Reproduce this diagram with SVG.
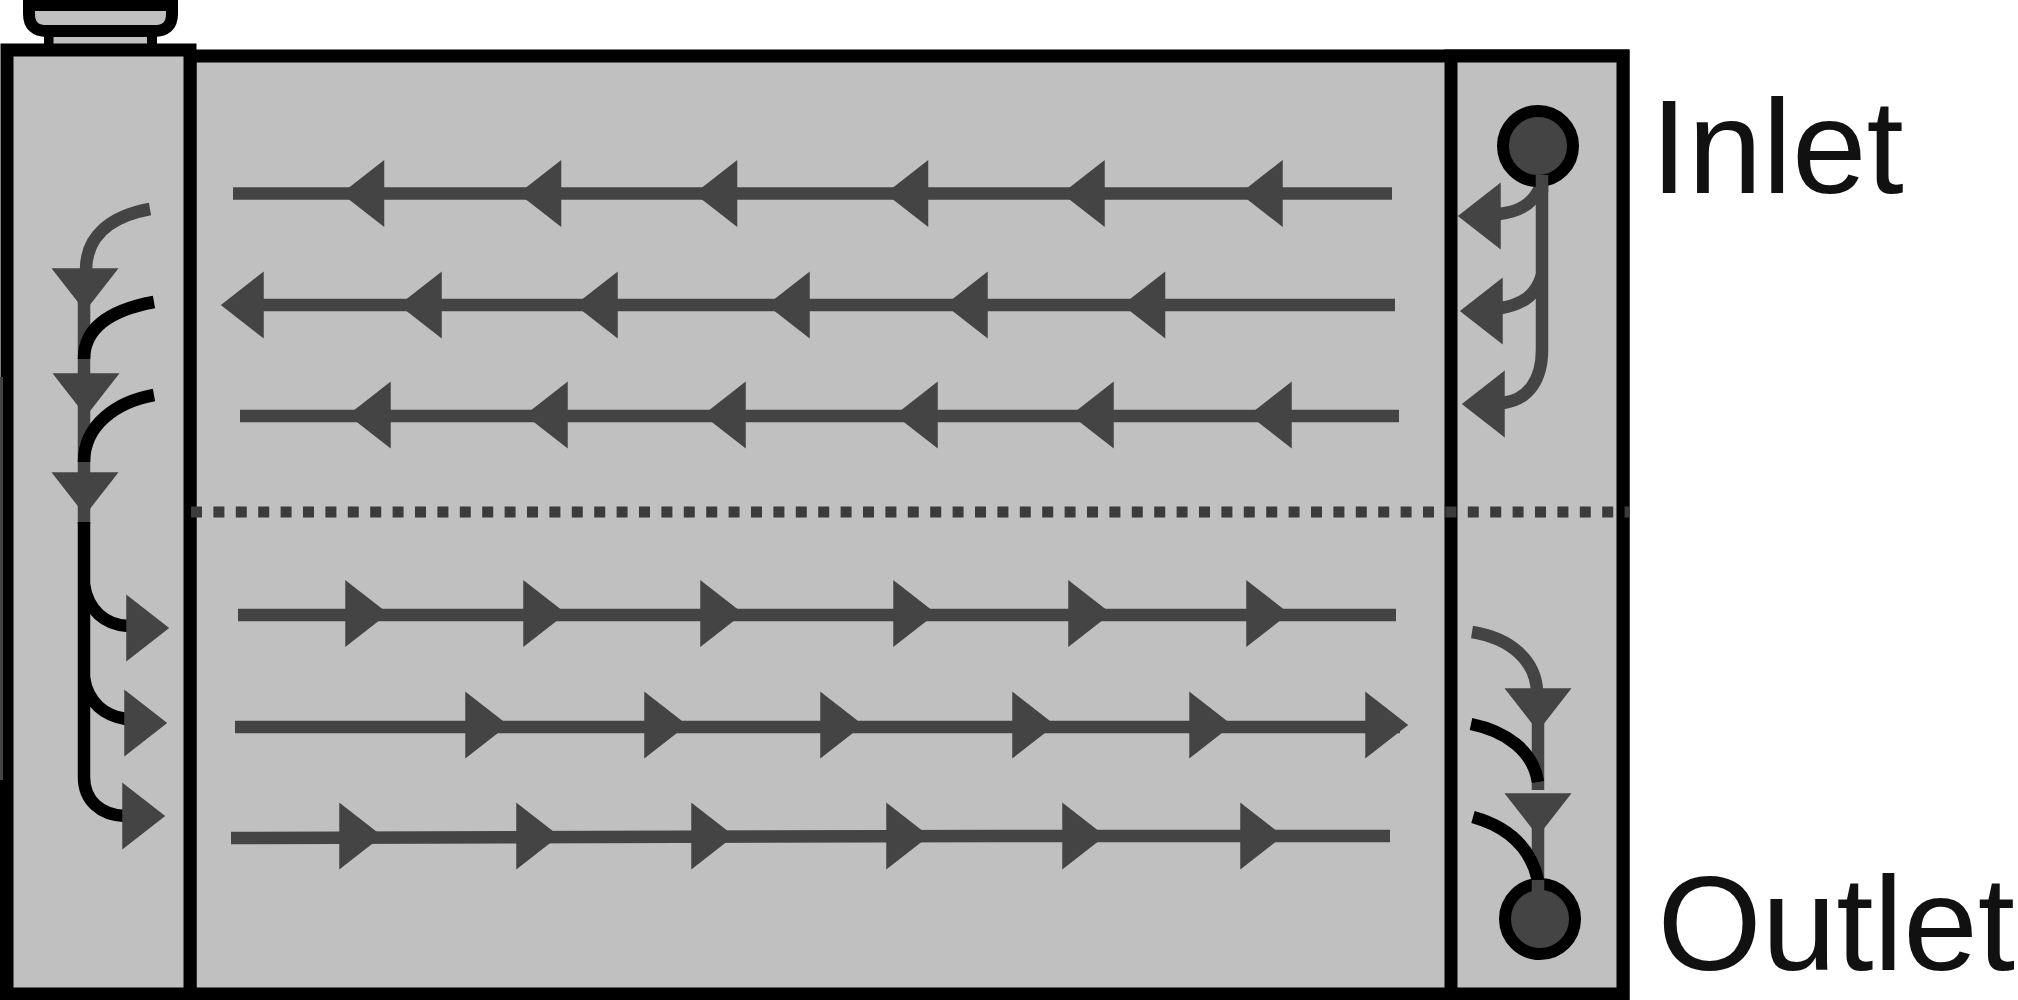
<svg xmlns="http://www.w3.org/2000/svg" width="2018" height="1000" viewBox="0 0 2018 1000">
<style>
.bg{fill:#fff}
.wall{fill:#c0c0c0;stroke:#000;stroke-width:13}
.flow{fill:none;stroke:#444;stroke-width:12.500}
.blk{fill:none;stroke:#000;stroke-width:12.500}
.dots{fill:none;stroke:#3c3c3c;stroke-width:11;stroke-dasharray:11 11.400}
.port{fill:#444;stroke:#000;stroke-width:12}
.label{font-family:"Liberation Sans",Arial,sans-serif;font-size:134px;fill:#111}
.head{fill:#444;stroke:#444;stroke-width:1.500}
</style>
<defs>
<polygon id="hr" class="head" points="0,-32 41,0 0,32"/>
<polygon id="hl" class="head" points="0,0 41,-32 41,32"/>
<polygon id="hd" class="head" points="-32,0 32,0 0,41"/>
</defs>
<rect class="bg" width="2018" height="1000"/>
<g id="cap">
<rect x="46" y="36" width="108" height="10" fill="#c0c0c0"/>
<rect x="44" y="34" width="9.500" height="14"/>
<rect x="147" y="34" width="10" height="14"/>
<path d="M29,5 H172 V14 Q172,31 154,31 H47 Q29,31 29,14 Z" fill="#c0c0c0" stroke="#000" stroke-width="12"/>
</g>
<g id="core"><rect class="wall" x="190" y="56" width="1433" height="938"/></g>
<g id="left-header">
<rect class="wall" x="7" y="50" width="183" height="944"/>
<rect x="0" y="377" width="3" height="403" fill="#444"/>
<rect x="0" y="780" width="6" height="220" fill="#000"/>
</g>
<g id="right-header"><rect class="wall" x="1451" y="56" width="172" height="938"/></g>
<g id="divider"><path class="dots" d="M191,512 H1629"/></g>
<g id="connectors">
<path class="flow" d="M233,193.500 H1392"/>
<path class="flow" d="M240,305 H1395"/>
<path class="flow" d="M240,416 H1399"/>
<path class="flow" d="M238,615 H1396"/>
<path class="flow" d="M235,727 H1400"/>
<path class="flow" d="M231,838 L1000,836 H1390"/>
<use href="#hl" x="342.500" y="193.500"/><use href="#hl" x="519.500" y="193.500"/><use href="#hl" x="695.500" y="193.500"/><use href="#hl" x="886.500" y="193.500"/><use href="#hl" x="1063" y="193.500"/><use href="#hl" x="1241" y="193.500"/>
<use href="#hl" x="222" y="305"/><use href="#hl" x="400" y="305"/><use href="#hl" x="576" y="305"/><use href="#hl" x="768" y="305"/><use href="#hl" x="946" y="305"/><use href="#hl" x="1123.500" y="305"/>
<use href="#hl" x="349" y="415"/><use href="#hl" x="526" y="415"/><use href="#hl" x="704" y="415"/><use href="#hl" x="896" y="415"/><use href="#hl" x="1072" y="415"/><use href="#hl" x="1250" y="415"/>
<use href="#hr" x="346" y="613.500"/><use href="#hr" x="524" y="613.500"/><use href="#hr" x="701" y="613.500"/><use href="#hr" x="894" y="613.500"/><use href="#hr" x="1069" y="613.500"/><use href="#hr" x="1247" y="613.500"/>
<use href="#hr" x="466" y="725"/><use href="#hr" x="645" y="725"/><use href="#hr" x="821" y="725"/><use href="#hr" x="1013" y="725"/><use href="#hr" x="1190" y="725"/><use href="#hr" x="1366" y="725"/>
<use href="#hr" x="340" y="836"/><use href="#hr" x="517" y="836"/><use href="#hr" x="692" y="836"/><use href="#hr" x="887" y="836"/><use href="#hr" x="1063" y="836"/><use href="#hr" x="1241" y="836"/>

<path class="flow" d="M84,300 V375 M84,405 V475 M84,505 V524"/>
<path class="flow" d="M150,209 C112,216 86,235 86,270"/>
<path class="blk" d="M154,302 C116,309 84,325 84,359"/>
<path class="blk" d="M154,395 C116,402 84,425 84,462"/>
<path class="blk" d="M84,522 V777 C84,800 100,815 125,816"/>
<path class="blk" d="M84,585 C88,610 105,625 128,626"/>
<path class="blk" d="M84,678 C88,703 105,716 126,719"/>
<use href="#hd" x="85" y="269"/><use href="#hd" x="86" y="374"/><use href="#hd" x="85" y="473"/>
<use href="#hr" x="127" y="628"/><use href="#hr" x="125" y="723"/><use href="#hr" x="123" y="816"/>

<path class="flow" d="M1542,175 V350 C1542,380 1528,400 1503,403"/>
<path class="flow" d="M1540,188 C1532,205 1518,212 1499,214"/>
<path class="flow" d="M1542,275 C1536,297 1520,305 1501,308"/>
<use href="#hl" x="1459" y="216"/><use href="#hl" x="1461" y="311"/><use href="#hl" x="1463" y="404"/>

<path class="flow" d="M1538,715 V790 M1538,820 V888"/>
<path class="flow" d="M1472,632 C1510,638 1536,660 1537,692"/>
<path class="blk" d="M1471,724 C1505,731 1533,750 1538,782"/>
<path class="blk" d="M1473,817 C1505,826 1530,845 1538,880"/>
<use href="#hd" x="1538" y="689"/><use href="#hd" x="1538" y="794"/>
</g>
<g id="inlet">
<circle class="port" cx="1538" cy="146" r="35"/>
<path class="flow" d="M1542,175 V192"/>
<text class="label" x="1650.500" y="193">Inlet</text>
</g>
<g id="outlet">
<circle class="port" cx="1540" cy="919" r="35"/>
<path class="flow" d="M1538,880 V892"/>
<text class="label" x="1657.500" y="970">Outlet</text>
</g>
</svg>
